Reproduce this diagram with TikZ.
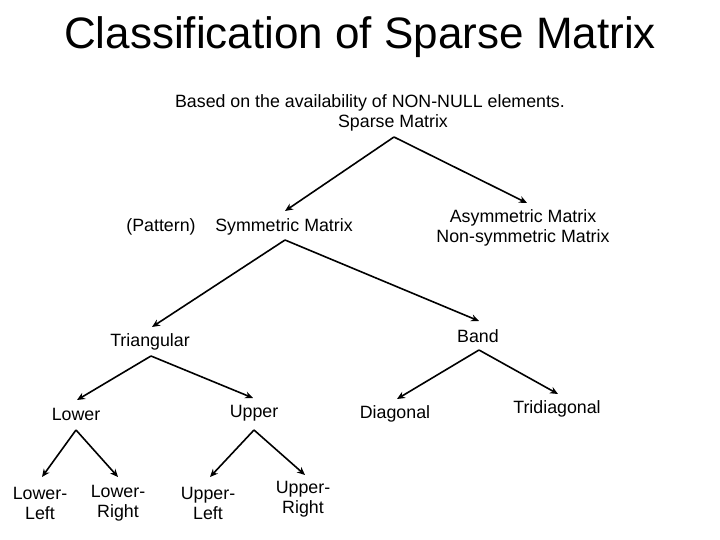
\documentclass[tikz,border=0pt]{standalone}
\usepackage{fontspec}
\setmainfont{Liberation Sans}
\usetikzlibrary{arrows.meta}
\begin{document}
\begin{tikzpicture}[x=1pt,y=-1pt,
  lbl/.style={font=\fontsize{17.8}{20}\selectfont,align=center,inner sep=0pt},
  arr/.style={-{Stealth[length=8pt,width=7pt]},line width=1.6pt}]
\useasboundingbox (0,0) rectangle (720,540);
\node (title) at (360,37) {\fontsize{44}{48}\selectfont Classification of Sparse Matrix};
\node[lbl] (sub) at (370,103) {Based on the availability of NON-NULL elements.};
\node[lbl] (sparse) at (393,123) {Sparse Matrix};
\node[lbl] (pat) at (161,227) {(Pattern)};
\node[lbl] (sym) at (284,227) {Symmetric Matrix};
\node[lbl] (asym) at (523,228) {Asymmetric Matrix\\Non-symmetric Matrix};
\node[lbl] (tri) at (150,342) {Triangular};
\node[lbl] (band) at (478,336) {Band};
\node[lbl] (low) at (76,414) {Lower};
\node[lbl] (up) at (254,413) {Upper};
\node[lbl] (diag) at (395,414) {Diagonal};
\node[lbl] (tridiag) at (557,409) {Tridiagonal};
\node[lbl] (ll) at (40,503) {Lower-\\Left};
\node[lbl] (lr) at (118,503) {Lower-\\Right};
\node[lbl] (ul) at (208,503) {Upper-\\Left};
\node[lbl] (ur) at (303,499) {Upper-\\Right};
\coordinate (a0) at (394,137);
\coordinate (a1) at (285,240);
\coordinate (a2) at (151,356);
\coordinate (a3) at (479,350);
\coordinate (a4) at (76,430);
\coordinate (a5) at (254,430);
\draw[arr] (a0) -- (285,211);
\draw[arr] (a0) -- (527,203);
\draw[arr] (a1) -- (152,327);
\draw[arr] (a1) -- (479,321);
\draw[arr] (a2) -- (77,400);
\draw[arr] (a2) -- (253,398);
\draw[arr] (a3) -- (397,399);
\draw[arr] (a3) -- (558,394);
\draw[arr] (a4) -- (42,477);
\draw[arr] (a4) -- (118,477);
\draw[arr] (a5) -- (210,477);
\draw[arr] (a5) -- (305,475);
\end{tikzpicture}
\end{document}
